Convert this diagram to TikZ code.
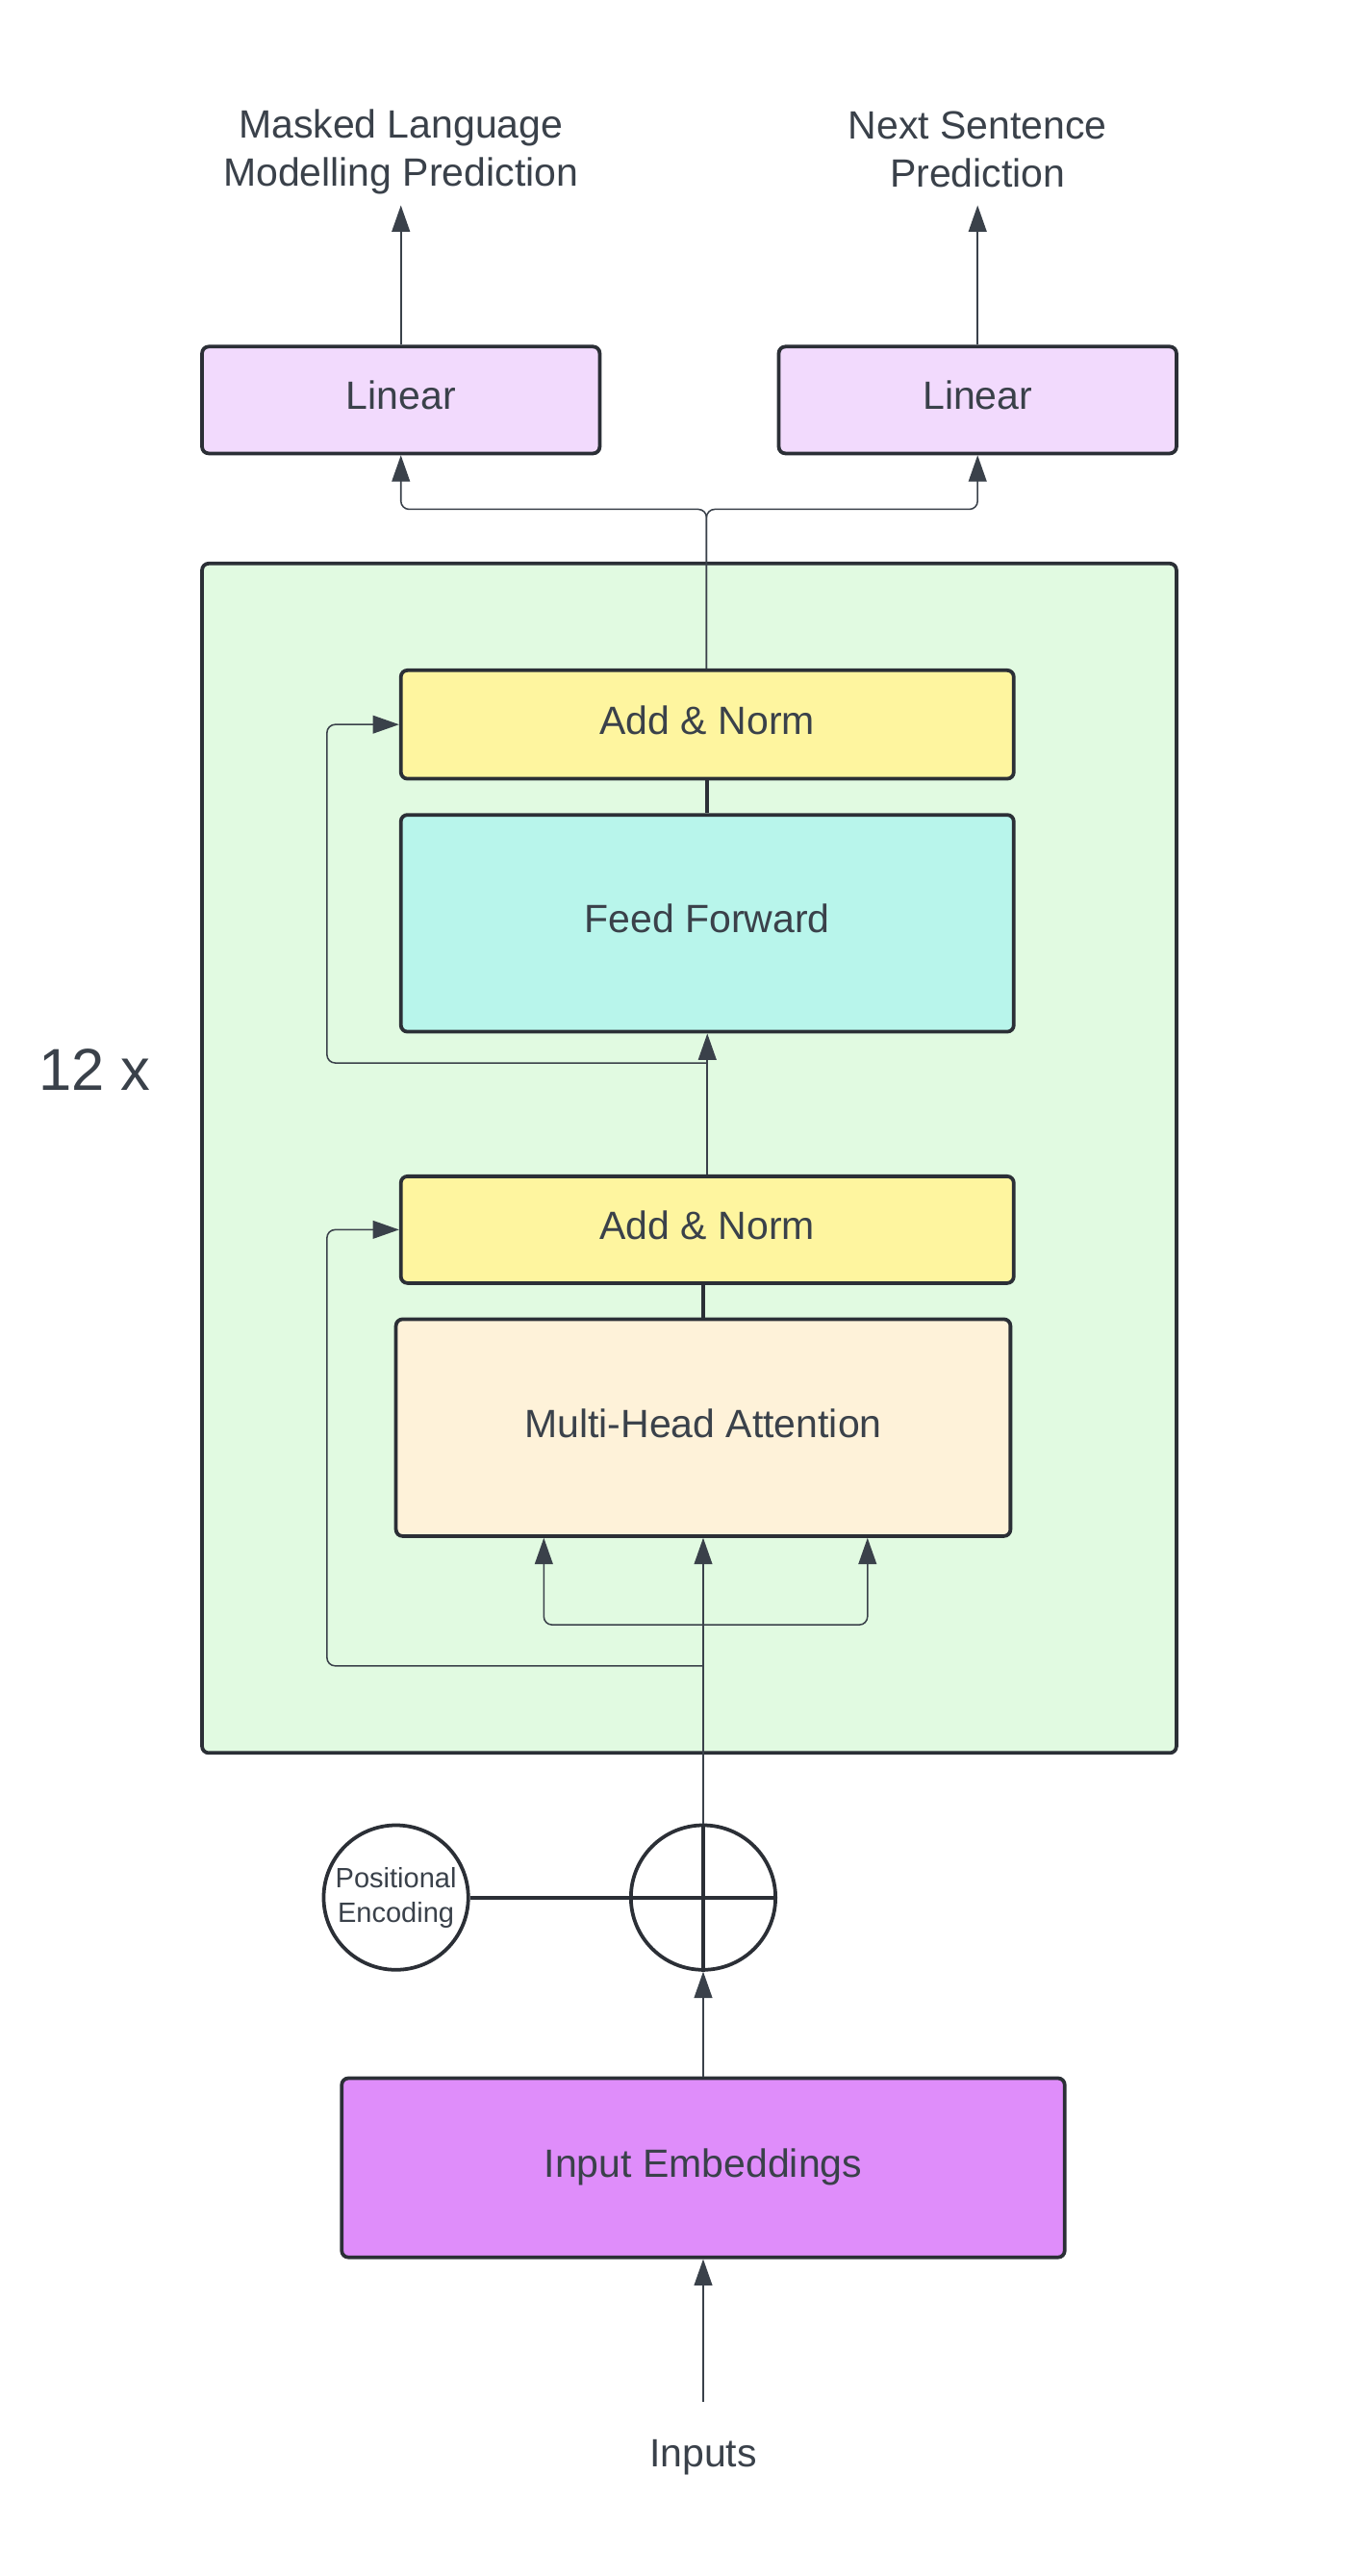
\documentclass[tikz,border=0pt]{standalone}
\usepackage{fontspec}
\setmainfont{Liberation Sans}
\usetikzlibrary{arrows.meta}
\usetikzlibrary{positioning}

\definecolor{ink}{HTML}{3A414A}
\definecolor{edge}{HTML}{2B2F36}
\definecolor{linfill}{HTML}{F2DAFD}
\definecolor{encfill}{HTML}{E1FAE1}
\definecolor{normfill}{HTML}{FEF59F}
\definecolor{fffill}{HTML}{B8F5EB}
\definecolor{attfill}{HTML}{FEF2D9}
\definecolor{embfill}{HTML}{DF8DFA}

\tikzset{
  box/.style={draw=edge, line width=2.2pt, rounded corners=4pt, text=ink,
    inner sep=0pt, text height=17.5pt, text depth=6pt, font=\fontsize{24}{29}\selectfont},
  ring/.style={draw=edge, line width=2.2pt, circle, inner sep=0pt, minimum size=88pt,
    text=ink, align=center, font=\fontsize{17}{21}\selectfont},
  txt/.style={text=ink, align=center, inner sep=0pt, font=\fontsize{24}{29}\selectfont},
  link/.style={draw=ink, line width=0.9pt, rounded corners=5pt},
  arrow/.style={link, -{Triangle[length=16pt,width=11pt]}},
  joint/.style={draw=edge, line width=2.2pt}
}

\begin{document}
\begin{tikzpicture}[x=1pt,y=-1pt]
  \fill[white] (0,0) rectangle (832,1568);

  % encoder block
  \node[box, fill=encfill, minimum width=593pt, minimum height=724pt] (enc) at (419.5,705) {};
  \node[txt, font=\fontsize{36}{40}\selectfont] (rep) at (57.5,651) {12 x};

  \node[box, fill=normfill, minimum width=373pt, minimum height=66pt] (norm2) at (430.5,441) {Add \& Norm};
  \node[box, fill=fffill, minimum width=373pt, minimum height=132pt] (ff) at (430.5,562) {Feed Forward};
  \node[box, fill=normfill, minimum width=373pt, minimum height=65pt] (norm1) at (430.5,748.5) {Add \& Norm};
  \node[box, fill=attfill, minimum width=374pt, minimum height=132pt] (mha) at (428,869) {Multi-Head Attention};

  % heads
  \node[box, fill=linfill, minimum width=242pt, minimum height=65pt] (mlmlin) at (244,243.5) {Linear};
  \node[box, fill=linfill, minimum width=242pt, minimum height=65pt] (nsplin) at (595,243.5) {Linear};
  \node[txt] (mlm) at (244,92.5) {Masked Language\\Modelling Prediction};
  \node[txt] (nsp) at (595,91) {Next Sentence\\Prediction};
  \coordinate (mlmtip) at (244,125);
  \coordinate (nsptip) at (595,125);

  % input side
  \node[ring] (pe) at (241,1155) {Positional\\Encoding};
  \node[ring] (plus) at (428,1155) {};
  \node[box, fill=embfill, minimum width=440pt, minimum height=109pt] (emb) at (428,1319.5) {Input Embeddings};
  \node[txt] (inputs) at (428,1495.5) {Inputs};
  \coordinate (intail) at (428,1462);

  \coordinate (split) at (430,310);
  \coordinate (res1) at (430,647);
  \coordinate (qkv) at (428,989);
  \coordinate (res2) at (428,1014);

  \draw[joint] (plus.north) -- (plus.south);
  \draw[joint] (plus.west) -- (plus.east);
  \draw[joint] (pe.east) -- (plus.west);
  \draw[joint] (norm2.south) -- (ff.north);
  \draw[joint] (mha.north) -- (mha.north |- norm1.south);

  \draw[arrow] (intail) -- (emb.south);
  \draw[arrow] (emb.north) -- (plus.south);
  \draw[arrow] (plus.north) -- (mha.south);
  \draw[arrow] (qkv) -| ([xshift=-97pt]mha.south);
  \draw[arrow] (qkv) -| ([xshift=100pt]mha.south);
  \draw[arrow] (res2) -- ++(-229,0) |- (norm1.west);
  \draw[arrow] (norm1.north -| ff.south) -- (ff.south);
  \draw[arrow] (res1) -- ++(-231,0) |- (norm2.west);

  \draw[arrow] (norm2.north -| split) -- (split) -| (mlmlin.south);
  \draw[arrow] (norm2.north -| split) -- (split) -| (nsplin.south);
  \draw[arrow] (mlmlin.north) -- (mlmtip);
  \draw[arrow] (nsplin.north) -- (nsptip);
\end{tikzpicture}
\end{document}
